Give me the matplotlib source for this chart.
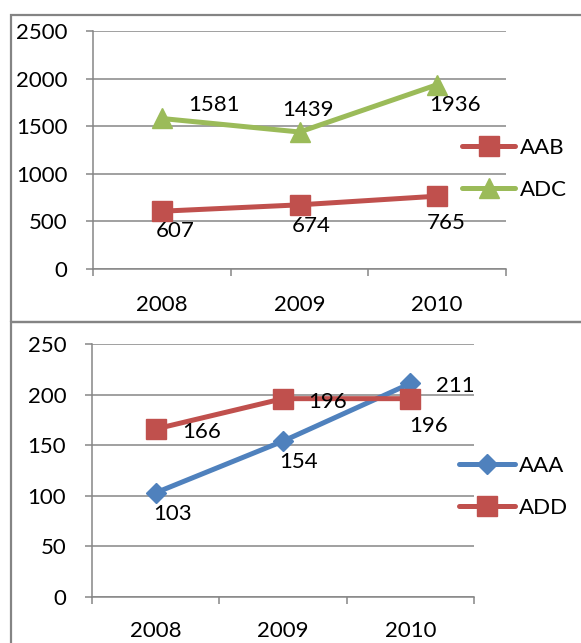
import matplotlib
matplotlib.use("Agg")
import matplotlib.pyplot as plt
from matplotlib.patches import Rectangle
from matplotlib.ticker import FixedLocator, NullFormatter, FixedFormatter

plt.rcParams['font.family'] = ['Lato', 'DejaVu Sans']

# Data
years = ['2008', '2009', '2010']
aab = [607, 674, 765]
adc = [1581, 1439, 1936]
aaa = [103, 154, 211]
add = [166, 196, 196]

# Label placement (pixel offsets from each point)
aab_off = [(13, -18), (12, -19), (9, -25)]
adc_off = [(52, 15), (8, 24), (18, -18)]
aaa_off = [(17, -19), (16, -19), (45, -1)]
add_off = [(46, -1), (45, -1), (18, -25)]

RED = '#C0504D'
GREEN = '#9BBB59'
BLUE = '#4F81BD'
GRID = '#868686'
BORDER = '#848484'
FS = 16

W, H = 581, 643
fig = plt.figure(figsize=(W / 100, H / 100), dpi=100)


def px_axes(left, top, right, bottom):
    return fig.add_axes([left / W, 1 - bottom / H, (right - left) / W, (bottom - top) / H])


def style_axes(ax, ymax, ystep, xpad):
    x = [1, 2, 3]
    ax.set_xlim(0.5, 3.5)
    ax.set_ylim(0, ymax)
    ax.set_yticks(range(0, ymax + 1, ystep))
    ax.xaxis.set_major_locator(FixedLocator([0.5, 1.5, 2.5, 3.5]))
    ax.xaxis.set_major_formatter(NullFormatter())
    ax.xaxis.set_minor_locator(FixedLocator(x))
    ax.xaxis.set_minor_formatter(FixedFormatter(years))
    ax.tick_params(axis='x', which='major', direction='out', length=5, width=1.1, color=GRID)
    ax.tick_params(axis='x', which='minor', length=0, pad=xpad, labelsize=FS)
    ax.tick_params(axis='y', direction='out', length=5, width=1.1, color=GRID, pad=13.5, labelsize=FS)
    for s in ('top', 'right'):
        ax.spines[s].set_visible(False)
    for s in ('left', 'bottom'):
        ax.spines[s].set_color(GRID)
        ax.spines[s].set_linewidth(1.1)
    ax.grid(axis='y', color=GRID, linewidth=1.1)
    ax.set_axisbelow(True)
    ax.set_facecolor('none')


def series(ax, vals, color, marker, ms, label, offs):
    x = [1, 2, 3]
    ax.plot(x, vals, color=color, lw=3.6, marker=marker, ms=ms, label=label,
            solid_capstyle='round', clip_on=False, zorder=3)
    for xi, v, (dx, dy) in zip(x, vals, offs):
        ax.annotate(str(v), (xi, v), xytext=(dx, dy), textcoords='offset pixels',
                    ha='center', va='center_baseline', fontsize=FS, zorder=4)


# Panel frames
fig.patches.append(Rectangle((11 / W, 1 - 322 / H), 1, 307 / H, transform=fig.transFigure,
                             fill=False, edgecolor=BORDER, linewidth=1.6))
fig.patches.append(Rectangle((11 / W, -0.1), 1, 1 - 322 / H + 0.1, transform=fig.transFigure,
                             fill=False, edgecolor=BORDER, linewidth=1.6))

# Upper chart
ax1 = px_axes(93, 31, 506, 269)
style_axes(ax1, 2500, 500, 19)
series(ax1, aab, RED, 's', 14, 'AAB', aab_off)
series(ax1, adc, GREEN, '^', 15, 'ADC', adc_off)
ax1.legend(loc='center left', bbox_to_anchor=(462 / W, 1 - 169 / H), bbox_transform=fig.transFigure,
           frameon=False, fontsize=FS, borderpad=0, borderaxespad=0, handlelength=2.4,
           handletextpad=0.2, labelspacing=1.0)

# Lower chart
ax2 = px_axes(92, 344, 474, 597)
style_axes(ax2, 250, 50, 17.5)
series(ax2, aaa, BLUE, 'D', 10, 'AAA', aaa_off)
series(ax2, add, RED, 's', 14, 'ADD', add_off)
ax2.legend(loc='center left', bbox_to_anchor=(459 / W, 1 - 487 / H), bbox_transform=fig.transFigure,
           frameon=False, fontsize=FS, borderpad=0, borderaxespad=0, handlelength=2.5,
           handletextpad=0.2, labelspacing=1.0)

fig.savefig('out.png', dpi=100)
